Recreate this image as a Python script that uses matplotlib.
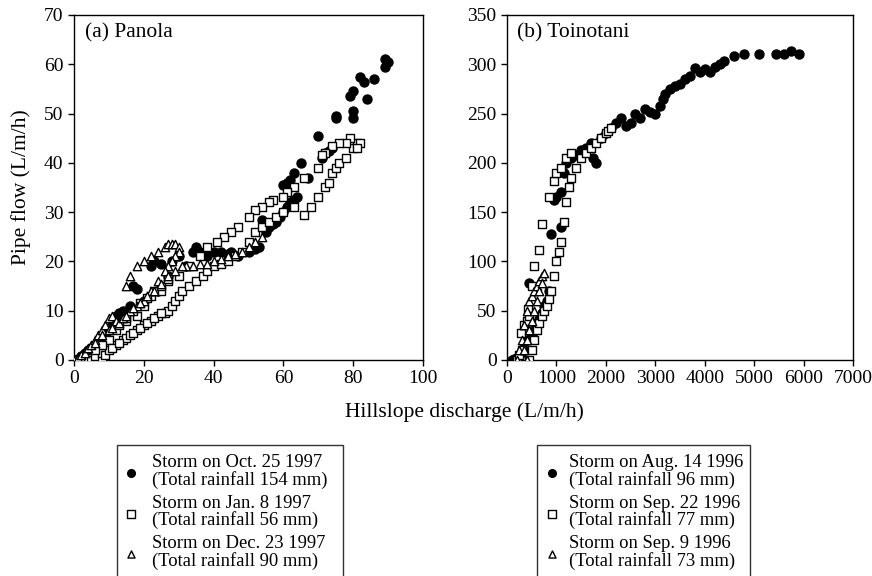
import matplotlib
matplotlib.use("Agg")
import matplotlib.pyplot as plt

plt.rcParams['font.family'] = ['Liberation Serif', 'DejaVu Serif']

# ---- Panola data (hillslope discharge vs pipe flow, L/m/h) ----
pan_oct_x = [0, 1, 2, 3, 4, 5, 6, 7, 8, 9, 10, 11, 12, 13, 14, 16, 17, 18, 20, 22, 23, 24, 25,
             27, 28, 30, 32, 34, 35, 36, 38, 40, 42, 44, 45, 47, 50, 52, 53, 54, 55, 56, 57,
             58, 59, 60, 61, 62, 63, 64, 60, 61, 62, 63, 65, 67, 70, 71, 72, 73, 74, 75, 75,
             79, 80, 80, 80, 82, 83, 84, 86, 89, 89, 90]
pan_oct_y = [0, 0.3, 0.8, 1.5, 2, 2.5, 3, 3.5, 4.5, 5, 6, 7, 9, 9.5, 10, 11, 15, 14.5, 12, 19, 20,
             14, 19.5, 17, 20, 21, 19, 22, 23, 22, 21, 22, 22, 21.5, 22, 21, 22, 22.5, 23, 28.5,
             26, 27, 27.5, 28, 29, 30, 31, 32, 32.5, 33, 35.5, 36, 36.5, 38, 40, 37, 45.5, 41,
             42, 42.5, 43, 49, 49.5, 53.5, 49, 50.5, 54.5, 57.5, 56.5, 53, 57, 59.5, 61, 60.5]

pan_jan_x = [0, 2, 4, 5, 6, 8, 8, 9, 10, 12, 14, 15, 16, 18, 20, 22, 24, 26, 27, 28, 29, 30, 31,
             33, 35, 37, 38, 40, 42, 44, 46, 48, 50, 52, 54, 56, 58, 60, 63, 66, 68, 70, 72, 73,
             74, 75, 76, 78, 80, 81, 82, 81, 79, 78, 76, 74, 72, 71, 70, 66, 63, 61, 60, 57, 56,
             54, 52, 50, 47, 45, 43, 41, 38, 36, 33, 30, 27, 25, 22, 20, 18, 15, 12, 10, 8, 6,
             11, 13, 17, 19, 21, 23, 25, 13, 15, 17, 19, 21, 23, 25, 27]
pan_jan_y = [0, 0.2, 0.5, 0, 0.8, 0, 1.5, 1, 2, 3, 4, 4.5, 5, 6, 7, 8, 9, 9.5, 10, 11, 12, 13,
             14, 15, 16, 17, 18, 19, 19.5, 20, 21, 22, 24, 26, 27, 28, 29, 30, 31, 29.5, 31,
             33, 35, 36, 38, 39, 40, 41, 43, 44, 44, 43, 45, 44, 44, 43.5, 42, 41.5, 39, 37,
             35, 34, 33, 32.5, 32, 31, 30.5, 29, 27, 26, 25, 24, 23, 21, 19, 17, 16, 14, 13,
             11, 9, 8, 6, 4, 3, 2,
             2.5, 3.5, 5.5, 6.5, 7.5, 8.5, 9.5, 7, 8.5, 10, 11.5, 12.5, 14, 15, 16.5]

pan_dec_x = [0, 1, 2, 3, 4, 5, 6, 7, 8, 9, 10, 11, 15, 16, 18, 20, 22, 24, 26, 27, 28, 29, 30,
             30, 29, 28, 27, 26, 24, 22, 20, 18, 16, 14, 12, 10, 8, 6, 32, 34, 36, 38, 40, 42,
             44, 46, 48, 50, 52, 54,
             11, 13, 14, 15, 17, 19, 21, 23, 25, 27, 29, 31]
pan_dec_y = [0, 0.5, 1, 1.5, 2.5, 3, 4, 5, 6, 7, 8.5, 9, 15, 17, 19, 20, 21, 22, 23, 23.5,
             23.5, 23.5, 23, 22, 21, 20, 19, 18, 16, 14, 12, 11, 10, 9, 8, 6, 5, 3.5, 19, 19,
             19.5, 19.5, 20, 20.5, 21, 21.5, 22, 23, 24, 25,
             6.5, 7.5, 8.5, 9, 10.5, 11.5, 13, 14, 15.5, 17, 18, 19]

# ---- Toinotani data ----
toi_aug_x = [100, 150, 200, 250, 300, 350, 400, 450, 500, 550, 600, 650, 700, 750, 800, 850,
             900, 950, 1000, 1100, 1100, 1150, 1200, 1300, 1400, 1500, 1600, 1700, 1750, 1800,
             1900, 2000, 2100, 2200, 2300, 2400, 2500, 2600, 2700, 2800, 2900, 3000, 3100,
             3150, 3200, 3300, 3400, 3500, 3600, 3700, 3800, 3900, 4000, 4100, 4200, 4300,
             4400, 4600, 4800, 5100, 5450, 5600, 5750, 5900]
toi_aug_y = [0, 1, 2, 4, 8, 12, 20, 78, 25, 30, 38, 42, 48, 55, 60, 70, 128, 162, 165, 135,
             170, 190, 200, 205, 208, 213, 215, 220, 205, 200, 225, 230, 235, 240, 245, 237,
             240, 250, 245, 255, 252, 250, 258, 265, 270, 275, 278, 280, 285, 288, 296, 292,
             295, 292, 297, 300, 303, 308, 310, 310, 310, 310, 313, 310]

toi_sep22_x = [200, 250, 280, 300, 350, 400, 420, 450, 500, 550, 650, 700, 850, 950, 1000,
               1100, 1200, 1300, 450, 500, 550, 600, 650, 700, 750, 800, 850, 900, 950, 1000,
               1050, 1100, 1150, 1200, 1250, 1300, 1400, 1500, 1600, 1700, 1800, 1900, 2000,
               2050, 2100]
toi_sep22_y = [0, 5, 27, 10, 35, 40, 52, 45, 75, 95, 112, 138, 165, 182, 190, 195, 205, 210,
               0, 10, 20, 30, 38, 45, 50, 55, 62, 70, 85, 100, 110, 120, 140, 160, 175, 185,
               195, 205, 210, 215, 220, 225, 230, 232, 235]

toi_sep9_x = [200, 250, 300, 350, 400, 450, 500, 550, 600, 650, 700, 750, 700, 650, 600, 550,
              500, 450, 400, 350, 400]
toi_sep9_y = [0, 10, 20, 35, 50, 60, 65, 70, 75, 80, 85, 88, 78, 70, 60, 50, 40, 30, 20, 10, 0]

pan_labels = ['Storm on Oct. 25 1997\n(Total rainfall 154 mm)',
              'Storm on Jan. 8 1997\n(Total rainfall 56 mm)',
              'Storm on Dec. 23 1997\n(Total rainfall 90 mm)']
toi_labels = ['Storm on Aug. 14 1996\n(Total rainfall 96 mm)',
              'Storm on Sep. 22 1996\n(Total rainfall 77 mm)',
              'Storm on Sep. 9 1996\n(Total rainfall 73 mm)']

fig = plt.figure(figsize=(8.72, 5.76), dpi=100)
ax1 = fig.add_axes([0.0849, 0.375, 0.4002, 0.599])
ax2 = fig.add_axes([0.5814, 0.375, 0.3968, 0.599])


def draw(ax, series, labels):
    styles = [dict(marker='o', facecolor='black', edgecolor='black', s=42),
              dict(marker='s', facecolor='white', edgecolor='black', s=36),
              dict(marker='^', facecolor='white', edgecolor='black', s=36)]
    handles = []
    for (x, y), st, lab in zip(series, styles, labels):
        h = ax.scatter(x, y, linewidths=1.0, label=lab, zorder=3, **st)
        handles.append(h)
    for sp in ax.spines.values():
        sp.set_linewidth(1.0)
    ax.tick_params(direction='out', length=4, width=1, labelsize=14)
    return handles


h1 = draw(ax1, [(pan_oct_x, pan_oct_y), (pan_jan_x, pan_jan_y), (pan_dec_x, pan_dec_y)], pan_labels)
ax1.set_xlim(0, 100)
ax1.set_ylim(0, 70)
ax1.set_xticks(range(0, 101, 20))
ax1.set_yticks(range(0, 71, 10))
ax1.text(0.03, 0.975, '(a) Panola', transform=ax1.transAxes, fontsize=15.5, va='top')

h2 = draw(ax2, [(toi_aug_x, toi_aug_y), (toi_sep22_x, toi_sep22_y), (toi_sep9_x, toi_sep9_y)], toi_labels)
ax2.set_xlim(0, 7000)
ax2.set_ylim(0, 350)
ax2.set_xticks(range(0, 7001, 1000))
ax2.set_yticks(range(0, 351, 50))
ax2.text(0.03, 0.975, '(b) Toinotani', transform=ax2.transAxes, fontsize=15.5, va='top')

fig.text(0.024, 0.675, 'Pipe flow (L/m/h)', rotation=90, ha='center', va='center', fontsize=15.5)
fig.text(0.533, 0.285, 'Hillslope discharge (L/m/h)', ha='center', va='center', fontsize=15.5)

leg_kw = dict(loc='upper left', fontsize=13.4, frameon=True, fancybox=False, borderpad=0.45,
              labelspacing=0.32, markerscale=0.85, edgecolor='black', borderaxespad=0,
              mode='expand')
l1 = fig.legend(handles=h1, bbox_to_anchor=(117 / 872, 0, 226 / 872, 0.227),
                handlelength=0.6, handletextpad=0.83, **leg_kw)
l2 = fig.legend(handles=h2, bbox_to_anchor=(537 / 872, 0, 213 / 872, 0.227),
                handlelength=0.7, handletextpad=0.57, **leg_kw)
for leg in (l1, l2):
    leg.get_frame().set_linewidth(1.0)
    for t in leg.get_texts():
        t.set_linespacing(1.0)

fig.savefig('out.png', dpi=100)
